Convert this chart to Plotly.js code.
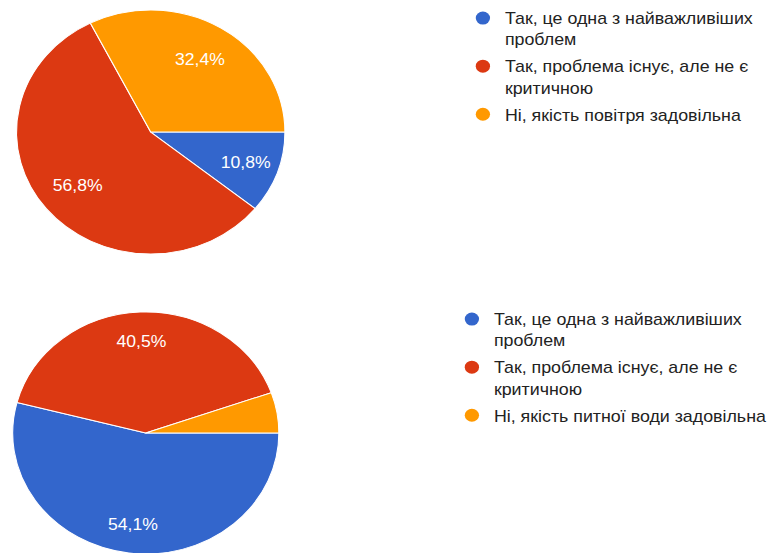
<!DOCTYPE html>
<html><head><meta charset="utf-8">
<script src="https://cdn.plot.ly/plotly-3.0.1.min.js"></script>
<style>
html,body{margin:0;padding:0;overflow:hidden;background:#fff;width:768px;height:553px}
#wrap{width:768px;height:553px;overflow:hidden;position:relative}
#chart{width:698px;height:560px;transform:scaleX(1.1);transform-origin:0 0}
</style></head><body><div id="wrap"><div id="chart"></div></div>
<script>
// Data
const airLabels = ['Так, це одна з найважливіших<br>проблем', 'Так, проблема існує, але не є<br>критичною', 'Ні, якість повітря задовільна'];
const airCounts = [4, 21, 12];
const waterLabels = ['Так, це одна з найважливіших<br>проблем', 'Так, проблема існує, але не є<br>критичною', 'Ні, якість питної води задовільна'];
const waterCounts = [20, 15, 2];
const waterShowText = [true, true, false];

// Styles
const sliceColors = ['#3366CC', '#DC3912', '#FF9900'];
const clearColors = ['rgba(0,0,0,0)', 'rgba(0,0,0,0)', 'rgba(0,0,0,0)'];
const fontFam = 'Arial, "Liberation Sans", sans-serif';
const airDomain = {x: [0.0215, 0.3711], y: [0.5464, 0.9821]};
const waterDomain = {x: [0.0165, 0.3632], y: [0.0107, 0.4429]};

const pieBase = {
  type: 'pie', sort: false, direction: 'clockwise', rotation: 90,
  showlegend: false, hoverinfo: 'label+percent'
};
const fillPie = Object.assign({}, pieBase, {
  marker: {colors: sliceColors, line: {color: '#ffffff', width: 1}},
  textinfo: 'none'
});
const labelPie = Object.assign({}, pieBase, {
  marker: {colors: clearColors, line: {width: 0}},
  textposition: 'inside', insidetextorientation: 'horizontal',
  insidetextfont: {color: '#ffffff', size: 16, family: fontFam},
  hoverinfo: 'skip'
});

const traces = [
  Object.assign({}, fillPie, {labels: airLabels, values: airCounts, domain: airDomain}),
  Object.assign({}, fillPie, {labels: waterLabels, values: waterCounts, domain: waterDomain}),
  Object.assign({}, labelPie, {labels: airLabels, values: airCounts, domain: airDomain, hole: 0.40,
    texttemplate: '%{percent:.1%}'}),
  Object.assign({}, labelPie, {labels: waterLabels, values: waterCounts, domain: waterDomain, hole: 0.52,
    texttemplate: waterShowText.map(s => s ? '%{percent:.1%}' : '')})
];

// legend entries (circle markers)
airLabels.forEach((lab, i) => traces.push({
  type: 'scatter', mode: 'markers', x: [null], y: [null], name: lab,
  marker: {color: sliceColors[i], size: 13, symbol: 'circle'},
  legend: 'legend', legendgroup: 'a' + i, hoverinfo: 'skip'
}));
waterLabels.forEach((lab, i) => traces.push({
  type: 'scatter', mode: 'markers', x: [null], y: [null], name: lab,
  marker: {color: sliceColors[i], size: 13, symbol: 'circle'},
  legend: 'legend2', legendgroup: 'w' + i, hoverinfo: 'skip'
}));

const legendStyle = {
  font: {family: fontFam, size: 16.2, color: '#222222'},
  bgcolor: 'rgba(0,0,0,0)', borderwidth: 0, valign: 'top',
  tracegroupgap: 3, xanchor: 'left', yanchor: 'top'
};

const layout = {
  width: 698, height: 560,
  margin: {l: 0, r: 0, t: 0, b: 0, autoexpand: false},
  paper_bgcolor: '#ffffff', plot_bgcolor: '#ffffff',
  separators: ', ',
  font: {family: fontFam},
  xaxis: {visible: false}, yaxis: {visible: false},
  legend: Object.assign({}, legendStyle, {x: 419/698, y: 1 - 1/560}),
  legend2: Object.assign({}, legendStyle, {x: 409/698, y: 1 - 302/560})
};

Plotly.newPlot('chart', traces, layout, {displayModeBar: false, staticPlot: true});
</script></body></html>
